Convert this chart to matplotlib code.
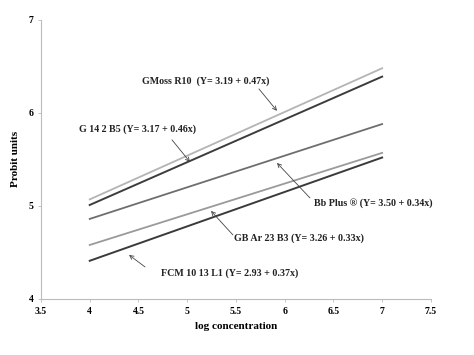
import matplotlib
matplotlib.use('Agg')
import matplotlib.pyplot as plt

plt.rcParams['font.family'] = ['Liberation Serif', 'DejaVu Serif']

# line endpoints (log concentration vs probit units)
x_ends = [4, 7]
gmoss = [5.07, 6.48]
g14 = [5.01, 6.39]
bbplus = [4.86, 5.88]
gbar = [4.58, 5.57]
fcm = [4.41, 5.52]

labels = [
    'GMoss R10  (Y= 3.19 + 0.47x)',
    'G 14 2 B5 (Y= 3.17 + 0.46x)',
    'Bb Plus \u00ae (Y= 3.50 + 0.34x)',
    'GB Ar 23 B3 (Y= 3.26 + 0.33x)',
    'FCM 10 13 L1 (Y= 2.93 + 0.37x)',
]

fig = plt.figure(figsize=(4.74, 3.55), dpi=100)
ax = fig.add_axes([0.0865, 0.158, 0.8225, 0.786])

ax.plot(x_ends, gmoss, color='#b4b4b4', lw=1.3)
ax.plot(x_ends, g14, color='#3c3c3c', lw=1.4)
ax.plot(x_ends, bbplus, color='#6e6e6e', lw=1.3)
ax.plot(x_ends, gbar, color='#9a9a9a', lw=1.3)
ax.plot(x_ends, fcm, color='#3a3a3a', lw=1.4)

# annotations: (text pos, arrow tail, arrow head)
notes = [
    ((4.536, 6.344), (5.736, 6.258), (5.921, 6.022)),
    ((3.89, 5.828), (4.844, 5.710), (5.028, 5.473)),
    ((6.30, 5.032), (6.259, 5.086), (5.921, 5.462)),
    ((5.479, 4.656), (5.469, 4.688), (5.244, 4.946)),
    ((4.731, 4.280), (4.567, 4.344), (4.403, 4.473)),
]
for lab, (tpos, tail, head) in zip(labels, notes):
    ax.text(tpos[0], tpos[1], lab, fontsize=7.2, fontweight='bold',
            ha='left', va='center', color='#222222')
    ax.annotate('', xy=head, xytext=tail,
                arrowprops=dict(arrowstyle='->', color='#444444', lw=0.6,
                                mutation_scale=7, shrinkA=0, shrinkB=0))

ax.set_xlim(3.5, 7.5)
ax.set_ylim(4, 7)
ax.set_xticks([3.5, 4, 4.5, 5, 5.5, 6, 6.5, 7, 7.5])
ax.set_xticklabels(['3.5', '4', '4.5', '5', '5.5', '6', '6.5', '7', '7.5'])
ax.set_yticks([4, 5, 6, 7])

for s in ['top', 'right']:
    ax.spines[s].set_visible(False)
for s in ['left', 'bottom']:
    ax.spines[s].set_color('#bbbbbb')
    ax.spines[s].set_linewidth(0.8)

ax.tick_params(axis='both', direction='out', length=2.5, width=0.6,
               color='#bbbbbb', labelsize=7, pad=3)
for t in ax.get_xticklabels() + ax.get_yticklabels():
    t.set_fontweight('bold')

ax.set_xlabel('log concentration', fontsize=8, fontweight='bold', labelpad=5)
ax.set_ylabel('Probit units', fontsize=8, fontweight='bold', labelpad=6)

fig.savefig('out.png', dpi=100)
